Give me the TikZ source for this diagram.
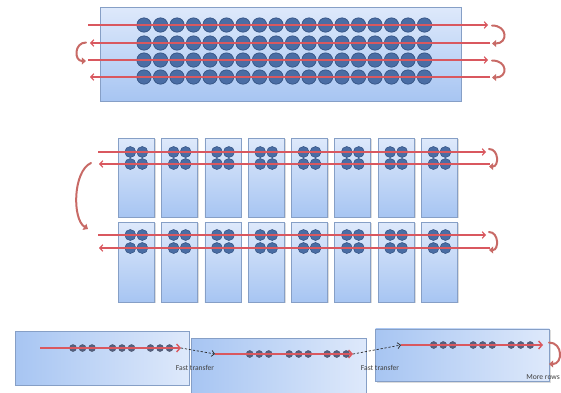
\documentclass[tikz,border=0pt]{standalone}
\usepackage{fontspec}
\setmainfont{Carlito}
\usetikzlibrary{arrows.meta,shadows}

\definecolor{boxtop}{HTML}{DEE9FB}
\definecolor{boxbot}{HTML}{A7C5F2}
\definecolor{boxedge}{HTML}{869FC6}
\definecolor{dotfill}{HTML}{4A6DA4}
\definecolor{dotedge}{HTML}{2F4E7E}
\definecolor{sdotfill}{HTML}{56617F}
\definecolor{trackred}{HTML}{D9585F}
\definecolor{turnred}{HTML}{C86A66}
\definecolor{labelgray}{HTML}{404040}

\begin{document}
\begin{tikzpicture}[x=1pt,y=-1pt,
  boxshadow/.style={drop shadow={shadow xshift=1.4pt,shadow yshift=-1.4pt,opacity=0.28}},
  vpanel/.style={draw=boxedge,line width=0.7pt,inner sep=0pt,outer sep=0pt,
    top color=boxtop,bottom color=boxbot,boxshadow},
  hpanel/.style={draw=boxedge,line width=0.7pt,inner sep=0pt,outer sep=0pt,
    left color=boxbot,right color=boxtop,boxshadow},
  bigdot/.style={circle,fill=dotfill,draw=dotedge,line width=0.6pt,inner sep=0pt,minimum size=14.4pt},
  middot/.style={circle,fill=dotfill,draw=dotedge,line width=0.5pt,inner sep=0pt,minimum size=11pt},
  smalldot/.style={circle,fill=sdotfill,draw=sdotfill!80!black,line width=0.4pt,inner sep=0pt,minimum size=7pt},
  track/.style={draw=trackred,line width=1.2pt,
    -{Straight Barb[length=3pt,width=6.5pt,color=trackred]}},
  btrack/.style={draw=trackred,line width=1.4pt,
    -{Straight Barb[length=3.5pt,width=8pt,color=trackred]}},
  fast/.style={draw=black!85,line width=0.7pt,dash pattern=on 2.2pt off 1.8pt,
    -{Straight Barb[length=3pt,width=6pt]}},
  turn/.style={draw=turnred,line width=2pt,line cap=round,
    -{Triangle[length=4.2pt,width=7pt,color=turnred]}},
  note/.style={font=\fontsize{7.6pt}{9pt}\selectfont,text=labelgray,inner sep=1pt}]

\useasboundingbox (0,0) rectangle (561,392);

% ---------- blocks ----------
\node[vpanel,minimum width=361pt,minimum height=94pt] (wide) at (280.5,54) {};
\foreach \k in {0,...,7} {
  \pgfmathsetmacro\cx{136.3+43.3*\k}
  \node[vpanel,minimum width=36pt,minimum height=79pt] (c1-\k) at (\cx,177.5) {};
  \node[vpanel,minimum width=36pt,minimum height=80pt] (c2-\k) at (\cx,262) {};
}
\node[hpanel,minimum width=174pt,minimum height=53.3pt] (b1) at (102,358.3) {};
\node[hpanel,minimum width=174.3pt,minimum height=62pt] (b2) at (278.85,369) {};
\node[hpanel,minimum width=173.6pt,minimum height=52.7pt] (b3) at (462.5,355.3) {};

% ---------- data points ----------
\foreach \r/\y in {1/25,2/43,3/60,4/77}
  \foreach \i in {0,...,17}
    \node[bigdot] (a\r-\i) at ({144+16.5*\i},\y) {};
\foreach \k in {0,...,7} {
  \pgfmathsetmacro\cx{136.3+43.3*\k}
  \foreach \y/\n in {152/a,164/b,235/c,248/d} {
    \node[middot] (m\n-\k-l) at ({\cx-6},\y) {};
    \node[middot] (m\n-\k-r) at ({\cx+6},\y) {};
  }
}
\foreach \b/\lx/\y in {1/15/348,2/191.7/354,3/375.7/345}
  \foreach \g/\gx in {0/58,1/97.5,2/135.5}
    \foreach \j in {0,1,2}
      \node[smalldot] (s\b-\g-\j) at ({\lx+\gx+9.5*\j},\y) {};

% ---------- scan paths, upper block ----------
\coordinate (aL1) at (88,25);   \coordinate (aR1) at (488,25);
\coordinate (aL2) at (90,43);   \coordinate (aR2) at (490,43);
\coordinate (aL3) at (88,60);   \coordinate (aR3) at (488,60);
\coordinate (aL4) at (90,77);   \coordinate (aR4) at (490,77);
\draw[track] (aL1) -- (aR1);
\draw[track] (aR2) -- (aL2);
\draw[track] (aL3) -- (aR3);
\draw[track] (aR4) -- (aL4);

\coordinate (ua1) at (492,25.5);  \coordinate (ua2) at (492,43.5);
\coordinate (ua3) at (492,60.5);  \coordinate (ua4) at (492,77.5);
\coordinate (ub1) at (86,42.5);   \coordinate (ub2) at (86,61);
\draw[turn] (ua1) .. controls +(16,0) and +(16,0) .. (ua2);
\draw[turn] (ua3) .. controls +(16,0) and +(16,0) .. (ua4);
\draw[turn] (ub1) .. controls +(-12,0) and +(-12,0) .. (ub2);

% ---------- scan paths, split blocks ----------
\coordinate (mL1) at (98,152);    \coordinate (mR1) at (486,152);
\coordinate (mL2) at (99,164);    \coordinate (mR2) at (490,164);
\coordinate (mL3) at (98,235);    \coordinate (mR3) at (486,235);
\coordinate (mL4) at (99,248);    \coordinate (mR4) at (490,248);
\draw[track] (mL1) -- (mR1);
\draw[track] (mR2) -- (mL2);
\draw[track] (mL3) -- (mR3);
\draw[track] (mR4) -- (mL4);

\coordinate (um1) at (489,149);  \coordinate (um2) at (489,166.5);
\coordinate (um3) at (489,232);  \coordinate (um4) at (489,250);
\coordinate (un1) at (91,163);   \coordinate (un2) at (88,229);
\draw[turn] (um1) .. controls +(10,0) and +(10,0) .. (um2);
\draw[turn] (um3) .. controls +(10,0) and +(10,0) .. (um4);
\draw[turn] (un1) .. controls +(-18,8) and +(-16,-10) .. (un2);

% ---------- scan paths, staggered blocks ----------
\coordinate (b1s) at (40,348);    \coordinate (b1e) at (181,348);
\coordinate (b2s) at (215,354);   \coordinate (b2e) at (353,354);
\coordinate (b3s) at (401,345);   \coordinate (b3e) at (543,345);
\draw[btrack] (b1s) -- (b1e);
\draw[btrack] (b2s) -- (b2e);
\draw[btrack] (b3s) -- (b3e);
\draw[fast] (b1e) -- (b2s);
\draw[fast] (b2e) -- (b3s);

\coordinate (uc1) at (549,342.5); \coordinate (uc2) at (549,364);
\draw[turn] (uc1) .. controls +(14,0) and +(14,0) .. (uc2);

\node[note] (ft1) at (195,368) {Fast transfer};
\node[note] (ft2) at (380,368) {Fast transfer};
\node[note,anchor=east] (more) at (561,377.5) {More rows};
\end{tikzpicture}
\end{document}
